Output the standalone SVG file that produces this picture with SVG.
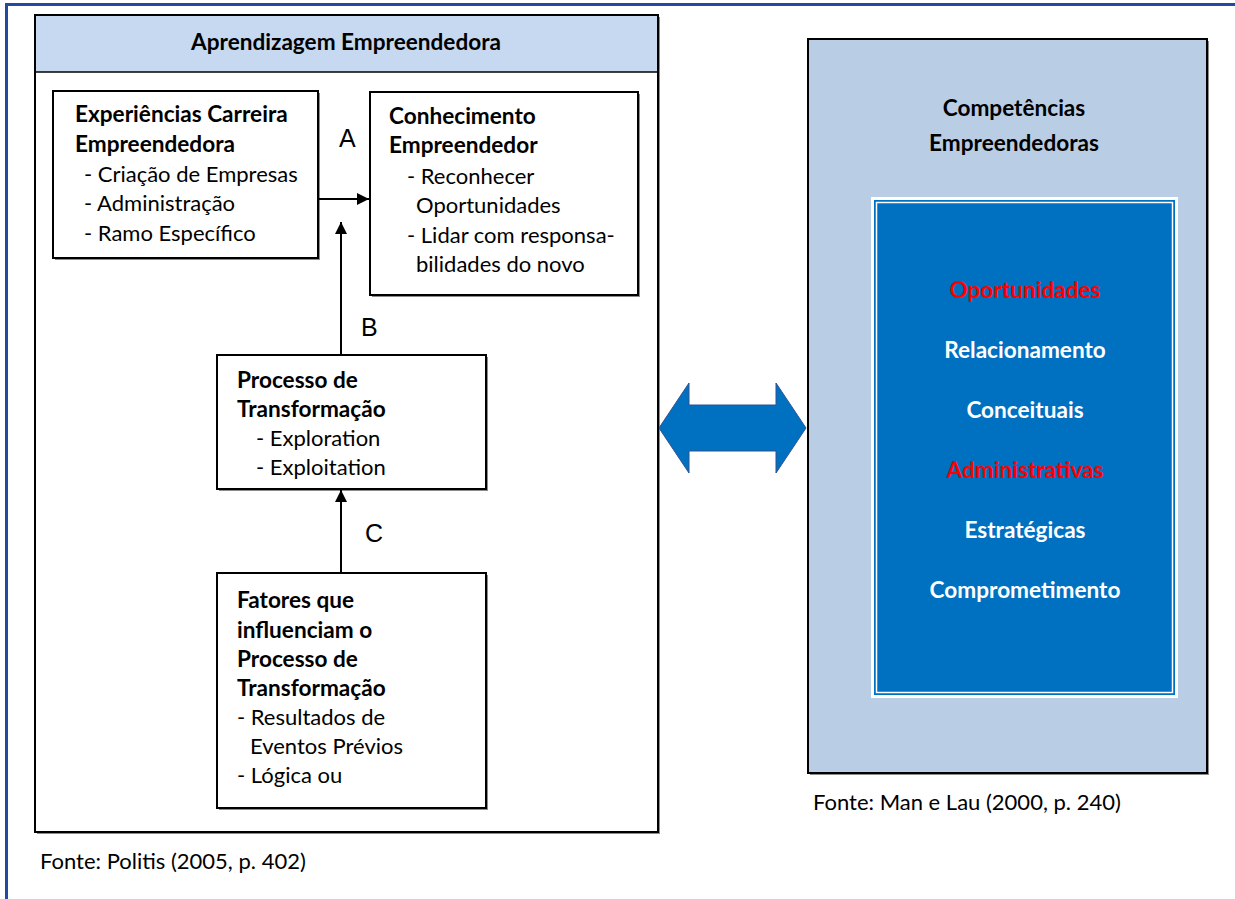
<svg xmlns="http://www.w3.org/2000/svg" width="1235" height="899" viewBox="0 0 1235 899">
<defs>
<style>
.box{fill:#fff;stroke:#000;stroke-width:2}
.sh{fill:#8c8c8c}
.t{font-family:Lato,"Liberation Sans",sans-serif;font-size:22px;fill:#000}
.b{font-weight:bold;font-size:22.6px}
.w{fill:#fff}
.r{fill:#ff0000}
.f{font-size:22px}
.lbl{font-family:"Liberation Sans",Arial,sans-serif;font-size:25px;fill:#000}
.conn{stroke:#000;stroke-width:2;fill:none}
</style>
<marker id="ah" viewBox="0 0 10 10" refX="10" refY="5" markerWidth="15" markerHeight="12" orient="auto" markerUnits="userSpaceOnUse">
<path d="M0,0 L10,5 L0,10 z" fill="#000"/>
</marker>
</defs>
<rect width="1235" height="899" fill="#fff"/>
<rect x="6.5" y="4.5" width="1240" height="910" fill="none" stroke="#2349a0" stroke-width="3"/>

<g id="aprendizagem">
<rect class="sh" x="37" y="17" width="623" height="817"/>
<rect class="box" x="35" y="15" width="623" height="817"/>
<rect x="36" y="16" width="621" height="56" fill="#c6d9f1"/>
<line x1="35" y1="72" x2="658" y2="72" stroke="#000" stroke-width="1.5"/>
<text class="t b" x="346" y="50" text-anchor="middle">Aprendizagem Empreendedora</text>
</g>

<g id="experiencias">
<rect class="sh" x="55" y="93" width="265" height="167"/>
<rect class="box" x="53" y="91" width="265" height="167"/>
<text class="t b" x="75" y="122">Experiências Carreira</text>
<text class="t b" x="75" y="152">Empreendedora</text>
<text class="t" x="84" y="182">- Criação de Empresas</text>
<text class="t" x="84" y="211">- Administração</text>
<text class="t" x="84" y="241">- Ramo Específico</text>
</g>

<g id="conhecimento">
<rect class="sh" x="372" y="94" width="268" height="203"/>
<rect class="box" x="370" y="92" width="268" height="203"/>
<text class="t b" x="389" y="124">Conhecimento</text>
<text class="t b" x="389" y="153">Empreendedor</text>
<text class="t" x="407" y="184">- Reconhecer</text>
<text class="t" x="416" y="213">Oportunidades</text>
<text class="t" x="407" y="243">- Lidar com responsa-</text>
<text class="t" x="416" y="272">bilidades do novo</text>
</g>

<g id="processo">
<rect class="sh" x="219" y="357" width="269" height="134"/>
<rect class="box" x="217" y="355" width="269" height="134"/>
<text class="t b" x="237" y="388">Processo de</text>
<text class="t b" x="237" y="417">Transformação</text>
<text class="t" x="256" y="446">- Exploration</text>
<text class="t" x="256" y="475">- Exploitation</text>
</g>

<g id="fatores">
<rect class="sh" x="219" y="575" width="269" height="235"/>
<rect class="box" x="217" y="573" width="269" height="235"/>
<text class="t b" x="237" y="608">Fatores que</text>
<text class="t b" x="237" y="638">influenciam o</text>
<text class="t b" x="237" y="667">Processo de</text>
<text class="t b" x="237" y="696">Transformação</text>
<text class="t" x="237" y="725">- Resultados de</text>
<text class="t" x="250" y="754">Eventos Prévios</text>
<text class="t" x="237" y="783">- Lógica ou</text>
</g>

<g id="connectors">
<line class="conn" x1="318" y1="199" x2="369" y2="199" marker-end="url(#ah)"/>
<line class="conn" x1="341" y1="355" x2="341" y2="222" marker-end="url(#ah)"/>
<line class="conn" x1="341" y1="573" x2="341" y2="490" marker-end="url(#ah)"/>
<text class="lbl" x="339" y="147">A</text>
<text class="lbl" x="361" y="336">B</text>
<text class="lbl" x="365" y="542">C</text>
<path d="M659,428 L689,383 L689,405 L776,405 L776,383 L806,428 L776,473 L776,451 L689,451 L689,473 Z" fill="#0070c0" stroke="#2f528f" stroke-width="1"/>
</g>

<g id="competencias">
<rect class="sh" x="810" y="41" width="399" height="734"/>
<rect x="808" y="39" width="399" height="734" fill="#b9cde5" stroke="#000" stroke-width="2"/>
<text class="t b" x="1014" y="116" text-anchor="middle">Competências</text>
<text class="t b" x="1014" y="151" text-anchor="middle">Empreendedoras</text>
<rect x="871" y="197" width="307" height="501" fill="#0070c0"/>
<rect x="872.5" y="198.5" width="304" height="498" fill="none" stroke="#fff" stroke-width="3"/>
<rect x="876.5" y="202.5" width="296" height="490" fill="none" stroke="#fff" stroke-width="1.5"/>
<text class="t b r" x="1025" y="298" text-anchor="middle">Oportunidades</text>
<text class="t b w" x="1025" y="358" text-anchor="middle">Relacionamento</text>
<text class="t b w" x="1025" y="418" text-anchor="middle">Conceituais</text>
<text class="t b r" x="1025" y="478" text-anchor="middle">Administrativas</text>
<text class="t b w" x="1025" y="538" text-anchor="middle">Estratégicas</text>
<text class="t b w" x="1025" y="598" text-anchor="middle">Comprometimento</text>
</g>

<g id="fontes">
<text class="t f" x="813" y="810">Fonte: Man e Lau (2000, p. 240)</text>
<text class="t f" x="40" y="869">Fonte: Politis (2005, p. 402)</text>
</g>
</svg>
